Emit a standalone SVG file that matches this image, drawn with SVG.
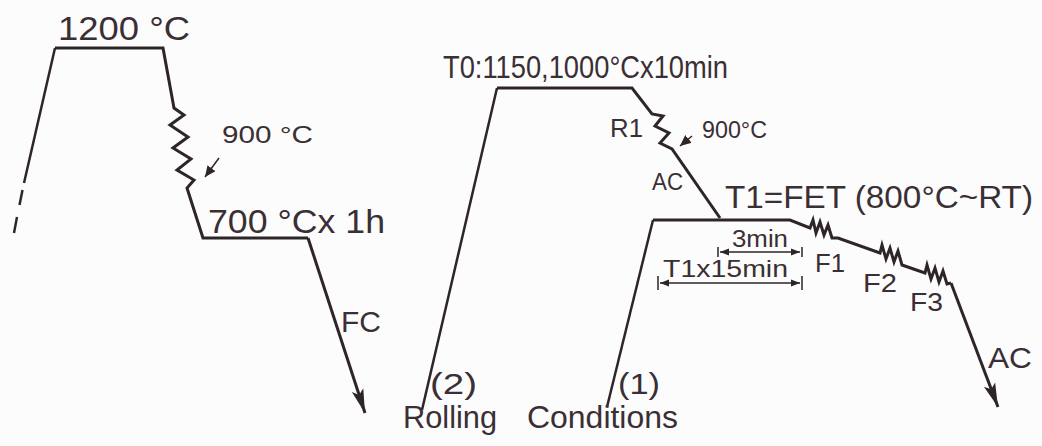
<svg xmlns="http://www.w3.org/2000/svg" width="1042" height="446" viewBox="0 0 1042 446">
<style>
.ln{fill:none;stroke:#2e2529;stroke-width:3;stroke-linejoin:miter;stroke-linecap:butt}
.th{fill:none;stroke:#2e2529;stroke-width:2.5}
.dm{fill:none;stroke:#2e2529;stroke-width:1.5}
.tx{font-family:"Liberation Sans",Arial,sans-serif;fill:#3a2f34}
</style>
<defs>
<marker id="bigArrow" markerUnits="userSpaceOnUse" markerWidth="26" markerHeight="14" refX="24" refY="7" orient="auto">
<path d="M0,1 L24,7 L0,13 L5,7 z" fill="#2e2529"/>
</marker>
<marker id="smallArrow" markerUnits="userSpaceOnUse" markerWidth="12" markerHeight="10" refX="11" refY="5" orient="auto">
<path d="M0,0 L11,5 L0,10 z" fill="#2e2529"/>
</marker>
<marker id="dimArrow" markerUnits="userSpaceOnUse" markerWidth="10" markerHeight="8" refX="9" refY="4" orient="auto-start-reverse">
<path d="M0,0.5 L9,4 L0,7.5 z" fill="#2e2529"/>
</marker>
</defs>
<rect width="1042" height="446" fill="#fcfcfc"/>

<g id="connectors">
<!-- left schedule -->
<g id="left-schedule">
<polyline class="th" points="24,183 55,48"/>
<line class="th" x1="22.5" y1="190" x2="19.5" y2="205"/>
<line class="th" x1="17" y1="217" x2="14" y2="233"/>
<polyline class="ln" points="55,48 163,48 174,108 184,115 170,125 188,137 173,148 191,159 177,170 194,180 187,188 203,238 308,238"/>
<line class="ln" x1="308" y1="238" x2="365" y2="413" marker-end="url(#bigArrow)"/>
<line class="dm" x1="219" y1="158" x2="205" y2="177" marker-end="url(#smallArrow)"/>
</g>
<!-- rolling schedule (2) -->
<g id="schedule-2">
<line class="th" x1="422" y1="410" x2="497" y2="88"/>
<polyline class="ln" points="497,88 632,88 652,114 663,116 655,126 669,133 660,143 672,149 720,218"/>
<line class="dm" x1="692" y1="136" x2="680" y2="146" marker-end="url(#smallArrow)"/>
</g>
<!-- rolling schedule (1) -->
<g id="schedule-1">
<line class="th" x1="607" y1="407" x2="653" y2="220"/>
<polyline class="ln" points="653,220 790,220 810,228 813,220 816,233 820,222 824,235 828,225 832,238 838,238 880,253 882,245 886,259 890,248 894,262 898,251 902,265 925,273 927,265 931,279 935,268 939,282 943,271 947,284 951,283"/>
<line class="ln" x1="951" y1="283" x2="998" y2="407" marker-end="url(#bigArrow)"/>
<!-- dimension lines -->
<line class="dm" x1="720" y1="252" x2="800" y2="252" marker-start="url(#dimArrow)" marker-end="url(#dimArrow)"/>
<line class="dm" x1="718" y1="247" x2="718" y2="257"/>
<line class="dm" x1="802" y1="247" x2="802" y2="257"/>
<line class="dm" x1="660" y1="283" x2="800" y2="283" marker-start="url(#dimArrow)" marker-end="url(#dimArrow)"/>
<line class="dm" x1="658" y1="276" x2="658" y2="290"/>
<line class="dm" x1="802" y1="276" x2="802" y2="290"/>
</g>
</g>

<g id="labels">
<text class="tx" x="58" y="40" font-size="33" textLength="132" lengthAdjust="spacingAndGlyphs">1200 °C</text>
<text class="tx" x="222" y="143" font-size="23" textLength="91" lengthAdjust="spacingAndGlyphs">900 °C</text>
<text class="tx" x="208" y="233" font-size="33" textLength="177" lengthAdjust="spacingAndGlyphs">700 °Cx 1h</text>
<text class="tx" x="341" y="332" font-size="30" textLength="40" lengthAdjust="spacingAndGlyphs">FC</text>
<text class="tx" x="443" y="78" font-size="31" textLength="285" lengthAdjust="spacingAndGlyphs">T0:1150,1000°Cx10min</text>
<text class="tx" x="610" y="137" font-size="25" textLength="33" lengthAdjust="spacingAndGlyphs">R1</text>
<text class="tx" x="702" y="138" font-size="23" textLength="65" lengthAdjust="spacingAndGlyphs">900°C</text>
<text class="tx" x="652" y="190" font-size="23" textLength="31" lengthAdjust="spacingAndGlyphs">AC</text>
<text class="tx" x="725" y="208" font-size="31" textLength="308" lengthAdjust="spacingAndGlyphs">T1=FET (800°C~RT)</text>
<text class="tx" x="732" y="247" font-size="23" textLength="56" lengthAdjust="spacingAndGlyphs">3min</text>
<text class="tx" x="663" y="277" font-size="24" textLength="125" lengthAdjust="spacingAndGlyphs">T1x15min</text>
<text class="tx" x="815" y="272" font-size="26" textLength="30" lengthAdjust="spacingAndGlyphs">F1</text>
<text class="tx" x="863" y="292" font-size="26" textLength="34" lengthAdjust="spacingAndGlyphs">F2</text>
<text class="tx" x="910" y="311" font-size="26" textLength="33" lengthAdjust="spacingAndGlyphs">F3</text>
<text class="tx" x="988" y="368" font-size="30" textLength="44" lengthAdjust="spacingAndGlyphs">AC</text>
<text class="tx" x="430" y="394" font-size="30" textLength="47" lengthAdjust="spacingAndGlyphs">(2)</text>
<text class="tx" x="618" y="394" font-size="30" textLength="42" lengthAdjust="spacingAndGlyphs">(1)</text>
<text class="tx" x="403" y="428" font-size="31" textLength="94" lengthAdjust="spacingAndGlyphs">Rolling</text>
<text class="tx" x="527" y="428" font-size="31" textLength="151" lengthAdjust="spacingAndGlyphs">Conditions</text>
</g>
</svg>
